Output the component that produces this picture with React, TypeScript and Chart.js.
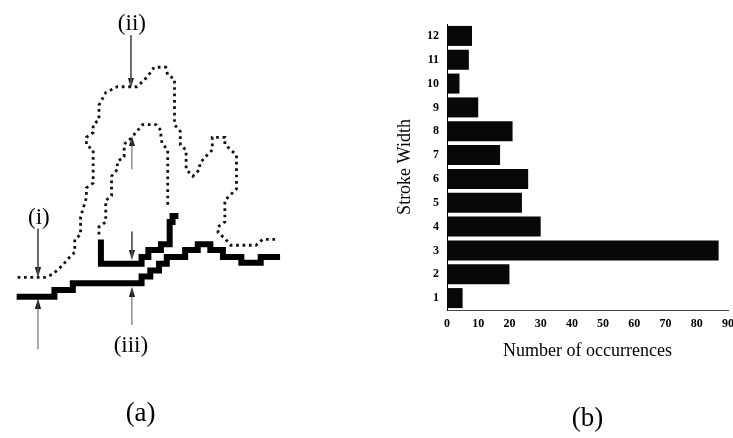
import React, { useEffect, useRef } from "react";
import { Chart, registerables } from "chart.js";
Chart.register(...registerables);

// ---------- (b) histogram data ----------
const strokeWidths = ["1", "2", "3", "4", "5", "6", "7", "8", "9", "10", "11", "12"];
const occurrences = [5, 20, 87, 30, 24, 26, 17, 21, 10, 4, 7, 8];
const xAxisMax = 90;
const xTickStep = 10;

// ---------- (a) diagram data (diagram units, y grows downward) ----------
const outerContour: [number, number][] = [
  [12, 279], [40, 279], [48, 276], [58, 267], [64, 260], [71, 253], [71, 240], [77, 235], [77, 217],
  [83, 197], [83, 187], [90, 182], [90, 148], [83, 143], [83, 135], [90, 130], [90, 122], [96, 117],
  [96, 102], [103, 89], [115, 83], [135, 83], [142, 77], [148, 70], [153, 63], [165, 63], [167, 71],
  [174, 75], [174, 122], [180, 129], [180, 143], [186, 148], [186, 168], [193, 175], [200, 168],
  [200, 162], [206, 155], [213, 148], [213, 135], [226, 135], [226, 142], [232, 148], [238, 153],
  [238, 188], [232, 194], [226, 200], [226, 222], [219, 227], [219, 233], [226, 239], [232, 246],
  [258, 246], [265, 240], [280, 240],
];
const innerContour: [number, number][] = [
  [96, 235], [96, 227], [103, 222], [103, 200], [109, 195], [109, 175], [115, 168], [115, 160],
  [122, 155], [122, 142], [129, 136], [135, 129], [141, 122], [155, 122], [160, 128], [160, 134],
  [161, 141], [167, 148], [167, 208],
];
const upperStroke: [number, number][] = [
  [98, 240], [98, 265], [140, 258], [147, 251], [160, 245], [169, 222], [172, 216], [178, 216],
];
const lowerStroke: [number, number][] = [
  [11, 299], [50, 292], [69, 285], [140, 278], [149, 272], [158, 265], [166, 258], [185, 251],
  [198, 245], [211, 251], [224, 258], [243, 264], [263, 258], [283, 258],
];
// arrows: [tail, tip]
const arrows: [number, number][][] = [
  [[129, 30], [129, 84]],
  [[33, 229], [33, 279]],
  [[33, 353], [33, 301]],
  [[130, 328], [130, 289]],
  [[130, 168], [130, 134]],
  [[130, 232], [130, 261]],
];
const diagramLabels: { text: string; x: number; y: number; size: number }[] = [
  { text: "(ii)", x: 130, y: 18, size: 23 },
  { text: "(i)", x: 34, y: 218, size: 23 },
  { text: "(iii)", x: 129, y: 350, size: 23 },
  { text: "(a)", x: 139, y: 419, size: 27 },
];
const panelBLabel = "(b)";

const SERIF = "'Liberation Serif', 'Times New Roman', serif";

function makeArrowHead(): HTMLCanvasElement {
  const c = document.createElement("canvas");
  c.width = 6;
  c.height = 10;
  const g = c.getContext("2d")!;
  g.fillStyle = "#111";
  g.beginPath();
  g.moveTo(3, 0);
  g.lineTo(6, 10);
  g.lineTo(0, 10);
  g.closePath();
  g.fill();
  return c;
}

const textPlugin = {
  id: "diagramText",
  afterDatasetsDraw(chart: any) {
    const { ctx, scales } = chart;
    ctx.save();
    ctx.fillStyle = "#000";
    ctx.textAlign = "center";
    ctx.textBaseline = "middle";
    for (const l of diagramLabels) {
      ctx.font = `${l.size}px ${SERIF}`;
      ctx.fillText(l.text, scales.x.getPixelForValue(l.x), scales.y.getPixelForValue(l.y));
    }
    ctx.restore();
  },
};

const panelBPlugin = {
  id: "panelB",
  afterDraw(chart: any) {
    const { ctx, chartArea } = chart;
    ctx.save();
    ctx.fillStyle = "#000";
    ctx.textAlign = "center";
    ctx.textBaseline = "middle";
    ctx.font = `27px ${SERIF}`;
    ctx.fillText(panelBLabel, (chartArea.left + chartArea.right) / 2, 419);
    ctx.restore();
  },
};

export default function App() {
  const leftRef = useRef<HTMLCanvasElement>(null);
  const rightRef = useRef<HTMLCanvasElement>(null);

  useEffect(() => {
    const head = makeArrowHead();
    const toPts = (a: [number, number][]) => a.map(([x, y]) => ({ x, y }));
    const datasets: any[] = [
      {
        data: toPts(outerContour), showLine: true, borderColor: "#111", borderWidth: 2.8,
        borderDash: [2.7, 3.7], borderCapStyle: "butt", pointRadius: 0, tension: 0,
      },
      {
        data: toPts(innerContour), showLine: true, borderColor: "#111", borderWidth: 2.8,
        borderDash: [2.7, 3.7], borderCapStyle: "butt", pointRadius: 0, tension: 0,
      },
      {
        data: toPts(upperStroke), showLine: true, borderColor: "#000", borderWidth: 6,
        stepped: true, borderCapStyle: "butt", borderJoinStyle: "miter", pointRadius: 0,
      },
      {
        data: toPts(lowerStroke), showLine: true, borderColor: "#000", borderWidth: 6,
        stepped: true, borderCapStyle: "butt", borderJoinStyle: "miter", pointRadius: 0,
      },
    ];
    for (const [tail, tip] of arrows) {
      const dir = Math.sign(tail[1] - tip[1]);
      datasets.push({
        data: [{ x: tail[0], y: tail[1] }, { x: tip[0], y: tip[1] + dir * 3 }],
        showLine: true, borderColor: "#555", borderWidth: 1, pointRadius: 0,
      });
      datasets.push({
        data: [{ x: tip[0], y: tip[1] + dir * 5 }],
        pointRadius: 5, pointStyle: head, rotation: dir > 0 ? 0 : 180,
      });
    }
    const left = new Chart(leftRef.current!, {
      type: "scatter",
      data: { datasets },
      options: {
        responsive: false,
        animation: false,
        layout: { padding: 0 },
        plugins: { legend: { display: false }, tooltip: { enabled: false } },
        scales: {
          x: { type: "linear", min: 0, max: 380, display: false },
          y: { type: "linear", min: 0, max: 438, reverse: true, display: false },
        },
      },
      plugins: [textPlugin],
    });

    const tickFont = { family: SERIF, size: 12, weight: "bold" as const };
    const right = new Chart(rightRef.current!, {
      type: "bar",
      data: {
        labels: strokeWidths,
        datasets: [
          {
            data: occurrences, backgroundColor: "#080808", borderWidth: 0,
            barPercentage: 0.84, categoryPercentage: 1,
          },
        ],
      },
      options: {
        indexAxis: "y",
        responsive: false,
        animation: false,
        layout: { padding: { top: 24, right: 5, left: 0, bottom: 0 } },
        plugins: { legend: { display: false }, tooltip: { enabled: false } },
        scales: {
          x: {
            type: "linear", min: 0, max: xAxisMax,
            ticks: { stepSize: xTickStep, font: tickFont, color: "#000", padding: 7, maxRotation: 0 },
            grid: { display: false, drawTicks: false },
            border: { display: true, color: "#444", width: 1 },
            title: {
              display: true, text: "Number of occurrences", color: "#000",
              font: { family: SERIF, size: 18 }, padding: { top: 0, bottom: 76 },
            },
            afterFit: (s: any) => { s.height = 128; s.paddingRight = 0; s.paddingLeft = 0; },
          },
          y: {
            reverse: true,
            ticks: { font: tickFont, color: "#000", padding: 8 },
            grid: { display: false, drawTicks: false },
            border: { display: true, color: "#000", width: 1 },
            title: {
              display: true, text: "Stroke Width", color: "#000",
              font: { family: SERIF, size: 18 }, padding: { top: 14, bottom: 0 },
            },
            afterFit: (s: any) => { s.width = 67; s.paddingTop = 0; s.paddingBottom = 0; },
          },
        },
      },
      plugins: [panelBPlugin],
    });
    return () => {
      left.destroy();
      right.destroy();
    };
  }, []);

  return (
    <div style={{ position: "fixed", left: 0, top: 0, width: 733, height: 438, background: "#fff" }}>
      <canvas ref={leftRef} width={380} height={438}
        style={{ position: "absolute", left: 0, top: 0, width: 380, height: 438 }} />
      <canvas ref={rightRef} width={353} height={438}
        style={{ position: "absolute", left: 380, top: 0, width: 353, height: 438 }} />
    </div>
  );
}
